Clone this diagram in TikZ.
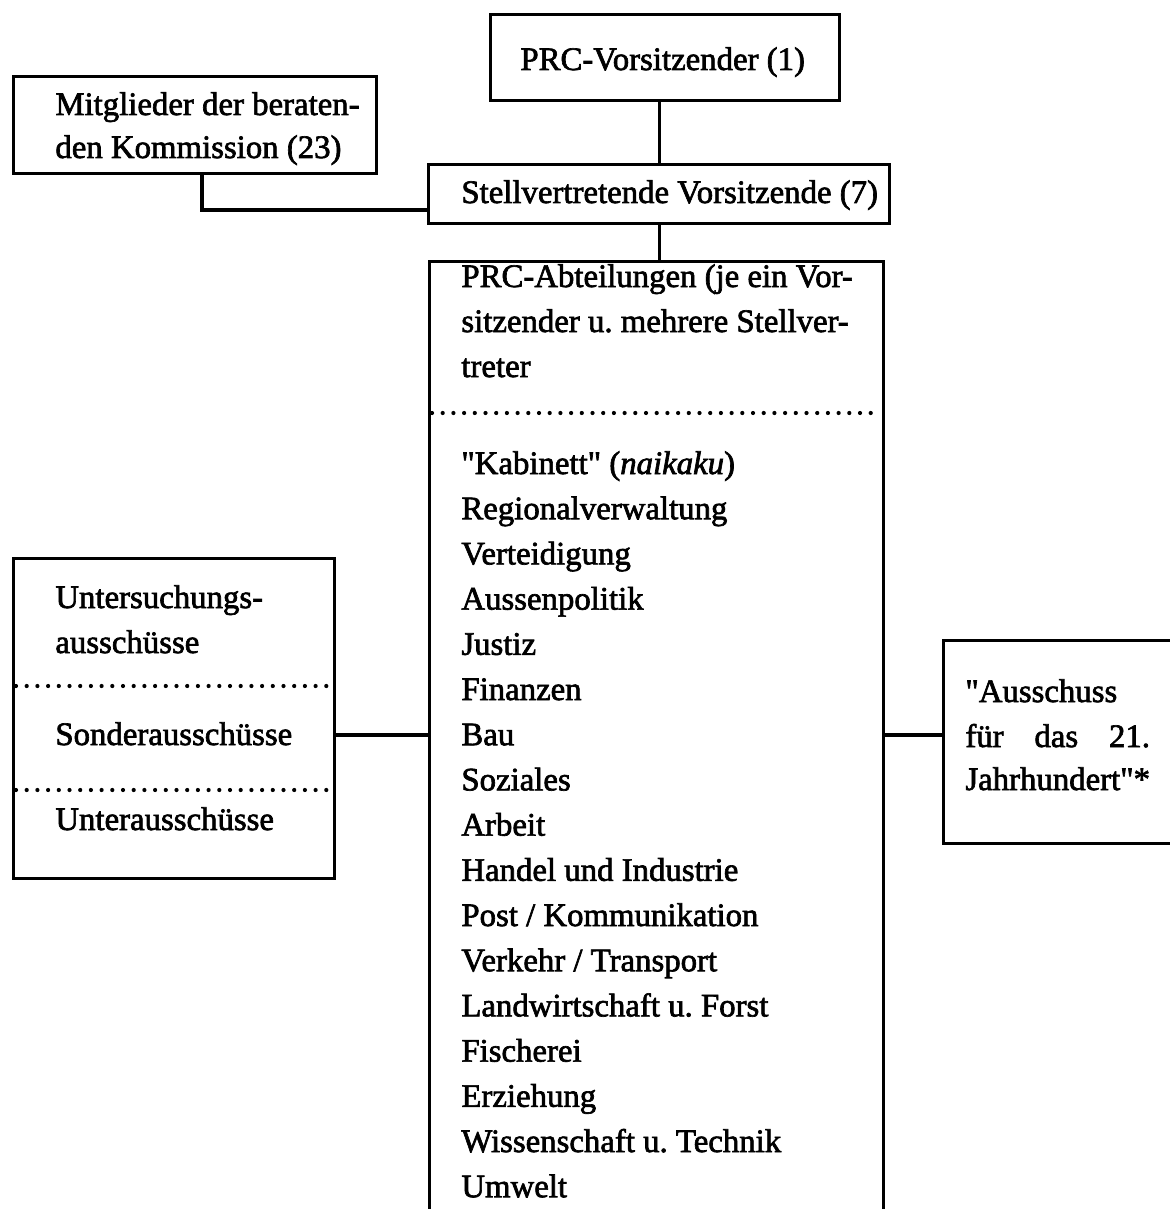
\documentclass[tikz,border=0pt]{standalone}
\usepackage{fontspec}
\setmainfont{Liberation Serif}[Ligatures=TeXOff, FakeBold=2]
\frenchspacing
\begin{document}
\begin{tikzpicture}[x=0.5pt,y=-0.5pt,
  box/.style={draw, line width=1.7pt, anchor=north west, inner sep=0pt},
  txt/.style={anchor=base west, inner sep=0pt, font=\fontsize{16.4pt}{20pt}\selectfont},
  conn/.style={line width=1.7pt},
  dotline/.style={line width=2.1pt, line cap=round, dash pattern=on 0pt off 5.35pt}]
\useasboundingbox (0,0) rectangle (1170,1209);
\fill[white] (0,0) rectangle (1170,1209);
\clip (0,0) rectangle (1170,1209);

% boxes
\node[box, minimum width=349*0.5pt, minimum height=86*0.5pt] (vors) at (489,13) {};
\node[box, minimum width=363*0.5pt, minimum height=97*0.5pt] (mit) at (12,75) {};
\node[box, minimum width=461*0.5pt, minimum height=59*0.5pt] (stell) at (427,163) {};
\node[box, minimum width=454*0.5pt, minimum height=1000*0.5pt] (abt) at (428,260) {};
\node[box, minimum width=321*0.5pt, minimum height=320*0.5pt] (links) at (12,557) {};
\node[box, minimum width=300*0.5pt, minimum height=203*0.5pt] (rechts) at (942,639) {};

% connectors
\coordinate (mk) at (202,210);
\coordinate (lk) at (0,735);
\draw[conn] (stell.north) -- (stell.north |- vors.south);
\draw[conn] (stell.south) -- (stell.south |- abt.north);
\draw[conn] (mit.south -| mk) |- (stell.west |- mk);
\draw[conn] (links.east |- lk) -- (abt.west |- lk);
\draw[conn] (abt.east |- lk) -- (rechts.west |- lk);

% dotted separators
\coordinate (d1) at (0,413);
\coordinate (d2) at (0,686);
\coordinate (d3) at (0,790);
\draw[dotline] ([xshift=2pt]abt.west |- d1) -- ([xshift=-3pt]abt.east |- d1);
\draw[dotline] ([xshift=2pt]links.west |- d2) -- ([xshift=-3pt]links.east |- d2);
\draw[dotline] ([xshift=2pt]links.west |- d3) -- ([xshift=-3pt]links.east |- d3);

% texts
\node[txt] (tvors) at (520,70) {PRC-Vorsitzender (1)};
\node[txt] (tmit1) at (55,115) {Mitglieder der beraten-};
\node[txt] (tmit2) at (55,158) {den Kommission (23)};
\node[txt] (tstell) at (461,203) {Stellvertretende Vorsitzende (7)};

\node[txt] (tabt1) at (461,287) {PRC-Abteilungen (je ein Vor-};
\node[txt] (tabt2) at (461,332) {sitzender u. mehrere Stellver-};
\node[txt] (tabt3) at (461,377) {treter};

\foreach \t [count=\i from 0] in {{"Kabinett" (\textit{naikaku})},
  Regionalverwaltung, Verteidigung, Aussenpolitik, Justiz, Finanzen, Bau,
  Soziales, Arbeit, Handel und Industrie, Post / Kommunikation,
  Verkehr / Transport, Landwirtschaft u. Forst, Fischerei, Erziehung,
  Wissenschaft u. Technik, Umwelt}
  \node[txt] (abt\i) at (461,474+45.2*\i) {\t};

\node[txt] (tl1) at (55,608) {Untersuchungs-};
\node[txt] (tl2) at (55,653) {ausschüsse};
\node[txt] (tl3) at (55,745) {Sonderausschüsse};
\node[txt] (tl4) at (55,830) {Unterausschüsse};

\node[txt] (tr1) at (965,702) {"Ausschuss};
\node[txt] (tr2) at (965,747) {\setbox0\hbox{Jahrhundert"*}\hbox to \wd0{für\hfill das\hfill 21.}};
\node[txt] (tr3) at (965,790) {Jahrhundert"*};
\end{tikzpicture}
\end{document}
